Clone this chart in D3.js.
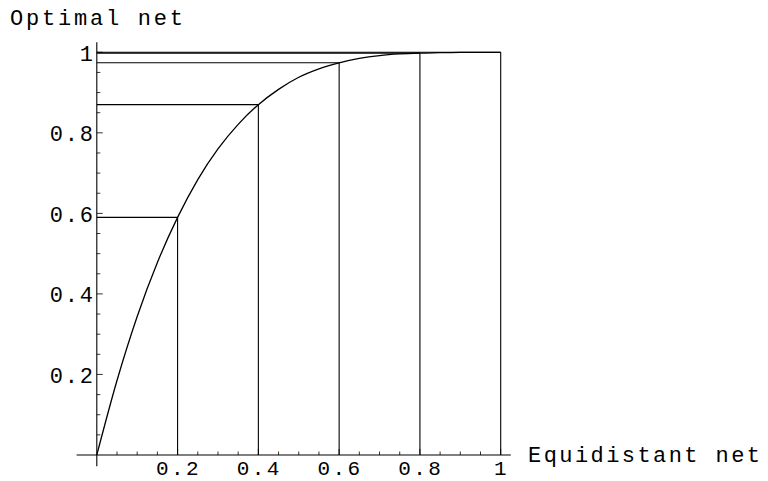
<!DOCTYPE html>
<html>
<head>
<meta charset="utf-8">
<script src="https://cdn.jsdelivr.net/npm/d3@7"></script>
<style>
  body { margin: 0; background: #fff; }
  text { font-family: "Liberation Mono", "DejaVu Sans Mono", monospace; fill: #000; }
</style>
</head>
<body>
<div id="chart"></div>
<script>
// curve
const curveX = [0, 0.05, 0.1, 0.15, 0.2, 0.25, 0.3, 0.35, 0.4, 0.45, 0.5, 0.55, 0.6, 0.65, 0.7, 0.75, 0.8, 0.85, 0.9, 0.95, 1]
const curveY = [0, 0.185, 0.344, 0.478, 0.59, 0.684, 0.76, 0.821, 0.87, 0.908, 0.938, 0.959, 0.974, 0.985, 0.992, 0.996, 0.998, 0.999, 1, 1, 1]
// net nodes (equidistant -> optimal)
const netX = [0.2, 0.4, 0.6, 0.8, 1]
const netY = [0.59, 0.87, 0.974, 0.998, 1]
const tickVals = [0.2, 0.4, 0.6, 0.8, 1]
const tickLabels = ['0.2', '0.4', '0.6', '0.8', '1']

const width = 768, height = 481

const x = d3.scaleLinear().domain([0, 1]).range([96.8, 500.7])
const y = d3.scaleLinear().domain([0, 1]).range([455, 52.3])

const svg = d3.select('#chart').append('svg')
  .attr('width', width)
  .attr('height', height)

const g = svg.append('g')
  .attr('fill', 'none')
  .attr('stroke', '#000')
  .attr('stroke-width', 1.1)

// axes
g.append('line')
  .attr('x1', x(-0.05)).attr('x2', x(1.025))
  .attr('y1', y(0)).attr('y2', y(0))
g.append('line')
  .attr('x1', x(0)).attr('x2', x(0))
  .attr('y1', y(-0.028)).attr('y2', y(1.025))

const minor = d3.range(1, 21).map(i => i * 0.05)
g.selectAll('.xt')
  .data(minor)
  .join('line')
    .attr('x1', d => x(d)).attr('x2', d => x(d))
    .attr('y1', y(0))
    .attr('y2', (d, i) => y(0) - ((i + 1) % 4 === 0 ? 6 : 3.5))
    .attr('stroke-width', 0.8)
g.selectAll('.yt')
  .data(minor)
  .join('line')
    .attr('y1', d => y(d)).attr('y2', d => y(d))
    .attr('x1', x(0))
    .attr('x2', (d, i) => x(0) + ((i + 1) % 4 === 0 ? 6 : 3.5))
    .attr('stroke-width', 0.8)

// net lines
netX.forEach((v, i) => {
  g.append('line')
    .attr('x1', x(v)).attr('x2', x(v))
    .attr('y1', y(0)).attr('y2', y(netY[i]))
  g.append('line')
    .attr('x1', x(0)).attr('x2', x(v))
    .attr('y1', y(netY[i])).attr('y2', y(netY[i]))
})

// curve
const line = d3.line()
  .x(d => x(d[0]))
  .y(d => y(d[1]))
  .curve(d3.curveMonotoneX)
g.append('path')
  .datum(d3.zip(curveX, curveY))
  .attr('d', line)
  .attr('stroke-width', 1.3)

// tick labels
const fs = 22, ls = 1.8
svg.selectAll('.xl')
  .data(tickVals)
  .join('text')
    .attr('x', d => x(d) + ls / 2)
    .attr('y', 474.5)
    .attr('text-anchor', 'middle')
    .attr('font-size', 21)
    .attr('letter-spacing', ls + 0.6)
    .text((d, i) => tickLabels[i])
svg.selectAll('.yl')
  .data(tickVals)
  .join('text')
    .attr('x', 93 + ls)
    .attr('y', d => y(d) + 8.5)
    .attr('text-anchor', 'end')
    .attr('font-size', fs)
    .attr('letter-spacing', ls)
    .text((d, i) => tickLabels[i])

svg.append('text')
  .attr('x', 10)
  .attr('y', 25)
  .attr('font-size', fs)
  .attr('textLength', 173)
  .text('Optimal net')
svg.append('text')
  .attr('x', 528)
  .attr('y', 462)
  .attr('font-size', fs)
  .attr('textLength', 232)
  .text('Equidistant net')
</script>
</body>
</html>
